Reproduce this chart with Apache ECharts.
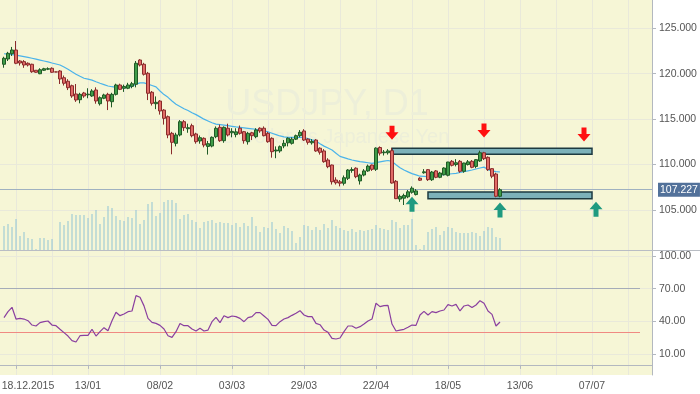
<!DOCTYPE html>
<html><head><meta charset="utf-8">
<script src="https://cdn.jsdelivr.net/npm/echarts@6/dist/echarts.min.js"></script>
<style>html,body{margin:0;padding:0;background:#fff}#c{width:700px;height:394px}</style>
</head><body><div id="c"></div><script>
// ---- data ----
const firstBarDate = '2015-12-15';
// [open, close, low, high]
const ohlc = [
[121.04,121.70,120.66,121.87],[121.62,122.25,121.40,122.41],[122.20,122.61,121.95,122.95],[122.61,121.15,121.05,123.60],
[121.40,121.18,120.90,121.50],[121.33,120.96,120.65,121.50],[121.15,120.96,120.80,121.25],[121.04,120.22,120.10,121.10],
[120.38,120.16,120.10,120.40],[120.00,120.44,119.95,120.60],[120.38,120.55,120.30,120.65],[120.50,120.55,120.40,120.70],
[120.60,120.16,120.10,120.70],[120.20,120.19,120.17,120.22],[120.30,119.42,118.87,120.40],[119.56,118.95,118.70,119.80],
[119.17,118.46,118.20,119.40],[118.68,117.55,117.35,118.80],[117.77,117.11,116.90,118.87],[117.14,117.73,116.74,117.90],
[117.88,117.55,117.35,118.00],[117.68,117.75,117.30,118.40],[117.55,118.10,117.45,118.30],[118.21,117.00,116.70,118.50],
[116.70,117.36,116.50,117.50],[117.30,117.66,117.20,117.80],[117.73,117.00,116.00,117.90],[116.92,117.73,116.30,117.90],
[117.73,118.76,117.60,118.90],[118.76,118.28,118.20,118.90],[118.40,118.60,118.00,118.80],[118.40,118.76,118.30,119.00],
[118.61,118.90,118.40,119.10],[118.84,121.15,118.50,121.40],[121.51,120.96,120.80,121.60],[121.04,119.94,119.80,121.20],
[120.05,117.85,117.10,120.20],[117.96,116.74,116.50,118.10],[116.70,116.85,116.10,117.50],[116.99,115.90,115.50,117.10],
[116.00,115.09,114.40,116.10],[115.27,113.26,112.90,115.40],[113.44,112.45,111.13,113.60],[112.34,113.26,112.00,113.50],
[113.26,114.72,113.10,114.90],[114.72,114.06,113.70,114.90],[113.95,114.06,113.50,114.50],[114.28,113.18,113.00,114.50],
[113.37,112.52,112.30,113.50],[112.60,112.96,112.30,113.20],[112.89,112.15,111.90,113.00],[112.00,112.30,111.10,112.60],
[112.04,113.00,111.90,113.10],[113.07,113.99,112.90,114.20],[114.10,112.63,112.50,114.40],[112.63,114.10,112.40,114.20],
[114.00,113.26,113.10,114.50],[113.50,113.65,113.00,114.00],[113.30,113.60,113.00,114.00],[114.00,113.44,113.30,114.30],
[113.62,112.63,112.30,113.70],[112.52,113.44,112.20,113.60],[113.50,113.18,112.70,113.60],[113.07,113.81,112.90,114.00],
[114.00,113.70,113.50,114.10],[114.00,113.18,113.10,114.20],[113.44,112.52,112.40,113.60],[112.89,111.42,110.76,113.00],
[111.50,111.60,110.70,112.00],[111.50,111.97,111.30,112.10],[112.05,112.34,111.80,112.70],[112.40,112.90,112.00,113.00],
[112.34,112.80,112.20,113.00],[112.80,113.18,112.70,113.30],[113.18,113.55,113.00,113.80],[113.70,112.70,112.60,113.90],
[112.80,112.45,112.20,112.90],[112.40,112.55,112.20,112.80],[112.70,111.50,111.40,112.80],[111.80,111.35,111.10,111.90],
[111.50,110.32,110.20,111.70],[110.50,109.77,109.60,110.70],[109.95,108.11,107.80,110.00],[108.30,108.00,107.80,108.60],
[108.10,107.95,107.60,108.30],[107.94,108.55,107.70,108.80],[108.49,109.40,108.30,109.50],[109.35,109.45,109.10,109.70],
[109.60,108.67,108.50,109.70],[108.20,108.85,107.80,109.00],[108.85,109.30,108.70,109.50],[109.30,109.83,109.20,110.00],
[109.95,109.48,109.30,110.00],[109.48,111.81,109.30,111.90],[111.88,111.26,111.00,112.00],[111.30,111.38,111.00,111.60],
[111.30,111.50,111.10,111.70],[111.53,107.97,107.90,111.82],[108.16,106.25,106.20,108.30],[106.20,106.50,105.90,106.70],
[106.30,106.60,105.55,106.80],[106.45,107.00,106.30,107.20],[106.95,107.40,106.80,107.60],[106.70,107.10,106.60,107.30],
[108.50,108.28,108.20,108.60],[109.10,109.20,109.00,109.50],[109.44,108.34,108.20,109.50],[108.33,109.18,108.20,109.30],
[109.30,108.60,108.50,109.40],[108.60,109.07,108.50,109.20],[108.88,109.62,108.80,109.70],[108.82,110.28,108.70,110.30],
[110.36,109.92,109.80,110.50],[110.00,110.20,109.80,110.60],[110.36,109.26,109.10,110.50],[109.26,110.17,109.10,110.20],
[110.00,110.30,109.90,110.50],[110.36,109.70,109.60,110.50],[109.80,110.54,109.60,110.60],[110.40,111.30,110.30,111.53],
[111.30,110.65,110.50,111.40],[110.80,109.44,109.30,110.90],[109.55,108.72,108.50,109.60],[108.96,106.51,106.40,109.10],
[106.51,107.227,106.40,107.40]
];
const maValues = [
122.20,122.15,122.10,122.05,121.97,121.88,121.79,121.70,121.60,121.50,
121.40,121.30,121.18,121.07,120.96,120.73,120.50,120.22,119.95,119.72,
119.50,119.40,119.30,119.12,118.95,118.80,118.65,118.57,118.50,118.47,
118.45,118.52,118.60,118.85,119.00,119.00,118.85,118.70,118.55,118.10,
117.70,117.40,117.00,116.65,116.40,116.15,115.95,115.70,115.50,115.25,
115.00,114.80,114.60,114.45,114.40,114.34,114.28,114.21,114.14,114.09,
114.04,113.99,113.94,113.88,113.80,113.72,113.60,113.45,113.30,113.15,
113.05,113.00,113.00,113.00,113.00,112.98,112.85,112.72,112.60,112.30,
112.03,111.82,111.60,111.25,110.90,110.77,110.63,110.50,110.41,110.32,
110.26,110.20,110.14,110.22,110.30,110.38,110.45,110.35,109.98,109.65,
109.40,109.20,109.00,108.86,108.72,108.70,108.68,108.73,108.78,108.83,
108.88,108.94,108.99,109.04,109.13,109.22,109.31,109.40,109.51,109.62,
109.72,109.45,109.30,109.22,109.18
];
const volumeValues = [
24,26,23,31,14,18,12,11,1,12,12,10,11,0,28,25,29,36,35,35,
35,32,36,40,26,33,44,42,34,30,29,33,32,40,26,30,46,48,34,37,
48,50,50,47,31,35,36,30,28,22,28,29,30,27,28,27,27,25,27,23,
27,24,33,24,18,23,22,28,21,17,24,22,19,7,13,25,24,20,23,20,
26,22,30,24,22,20,19,21,18,20,19,20,21,25,22,21,20,30,28,22,
25,25,31,5,1,5,18,21,23,15,19,23,22,18,17,17,17,18,17,14,
19,23,22,13,12
];
const rsiValues = [
43.4,48.9,52.9,42.1,42.7,42.1,40.6,36.6,35.7,38.8,
39.7,40.3,36.6,36.0,32.7,29.6,26.5,22.3,21.0,26.8,
27.1,27.1,32.7,26.5,30.5,34.2,31.4,40.6,48.3,45.2,
46.7,48.9,49.5,63.6,62.1,54.2,42.7,39.1,38.1,36.3,
33.0,26.8,25.3,30.5,38.1,36.0,36.0,33.0,31.1,33.6,
31.1,32.0,39.7,43.7,38.8,45.2,43.4,44.9,44.3,42.7,
39.7,43.4,44.3,48.0,48.0,44.9,41.8,36.3,36.0,39.7,
42.1,43.4,45.5,47.4,49.8,45.8,44.3,44.3,38.1,36.9,
32.0,29.9,24.4,23.8,24.7,30.5,35.7,35.7,33.6,35.1,
37.5,40.3,42.1,56.6,53.5,54.4,54.7,37.5,31.1,32.0,
32.7,34.5,36.6,36.3,45.8,49.2,45.8,48.9,48.0,49.5,
50.4,55.3,54.1,55.6,49.5,54.1,55.0,52.6,55.0,59.0,
56.6,49.5,46.4,35.7,39.4
];
const lastPrice = 107.227;
const rsiLevels = [70, 30];
const priceTicks = [105, 110, 115, 120, 125];
const rsiTicks = [10, 40, 70, 100];
const tickDates = ['2015-12-18','2016-01-13','2016-02-08','2016-03-03','2016-03-29','2016-04-22','2016-05-18','2016-06-13','2016-07-07'];
const tickLabels = ['18.12.2015','13/01','08/02','03/03','29/03','22/04','18/05','13/06','07/07'];
// annotations
const boxStart = ['2016-04-28','2016-05-11'];
const boxEnd = ['2016-07-07','2016-07-07'];
const boxTop = [111.79, 106.98];
const boxBottom = [111.13, 106.24];
const downArrowDates = ['2016-04-28','2016-05-31','2016-07-05'];
const downArrowPrices = [113.50, 113.75, 113.30];
const upArrowDates = ['2016-05-05','2016-06-06','2016-07-08'];
const upArrowPrices = [105.64, 105.00, 105.09];

// ---- axis categories: weekdays ----
const categories = (() => {
  const out = []; const d = new Date(Date.UTC(2015, 11, 14));
  while (out.length < 164) { const w = d.getUTCDay(); if (w !== 0 && w !== 6) out.push(d.toISOString().slice(0, 10)); d.setUTCDate(d.getUTCDate() + 1); }
  return out;
})();
const first = categories.indexOf(firstBarDate);
const align = (arr, empty) => categories.map((c, i) => { const k = i - first; return (k >= 0 && k < arr.length) ? arr[k] : empty; });
const tickIdx = tickDates.map(d => categories.indexOf(d));
const gridIdx = new Set(); tickIdx.forEach(t => { gridIdx.add(t); gridIdx.add(t + 9); });

const FONT = "'Liberation Sans',Arial,sans-serif";
const FS = 10.5;
const BG = '#f6f6d6', GRIDC = '#e9e9da', AXC = '#b3b8bf';
const downPath = 'path://M4,0H9V6H13L6.5,13L0,6H4Z';
const upPath = 'path://M6.5,0L13,7H9V14H4V7H0Z';

const labelFmt = (v) => { const t = tickDates.indexOf(v); if (t < 0) return ''; return t === 0 ? '{f|' + tickLabels[0] + '}' : tickLabels[t]; };

const chart = echarts.init(document.getElementById('c'), null, { renderer: 'canvas' });
chart.setOption({
  animation: false,
  backgroundColor: '#ffffff',
  grid: [
    { left: 0, top: 0, width: 652, height: 250, show: true, backgroundColor: BG, borderWidth: 0, containLabel: false, outerBoundsMode: 'none' },
    { left: 0, top: 250, width: 652, height: 125, show: true, backgroundColor: BG, borderWidth: 0, containLabel: false, outerBoundsMode: 'none' }
  ],
  graphic: [
    { type: 'text', z: 1, x: 327, y: 105, style: { text: 'USDJPY, D1', fill: '#edefd9', font: '36px "Liberation Sans", Arial, sans-serif', textAlign: 'center', textVerticalAlign: 'middle' } },
    { type: 'text', z: 1, x: 328, y: 137, style: { text: 'US Dollar vs Japanese Yen', fill: '#edefd9', font: '20px "Liberation Sans", Arial, sans-serif', textAlign: 'center', textVerticalAlign: 'middle' } },
    { type: 'line', z: 10, shape: { x1: 0, y1: 250.5, x2: 700, y2: 250.5 }, style: { stroke: '#b9bdc4', lineWidth: 1 } }
  ],
  xAxis: [
    { type: 'category', gridIndex: 0, data: categories, boundaryGap: false,
      axisLine: { show: false }, axisTick: { show: false }, axisLabel: { show: false },
      splitLine: { show: true, interval: (i) => gridIdx.has(i), lineStyle: { color: GRIDC, width: 1 } } },
    { type: 'category', gridIndex: 1, data: categories, boundaryGap: false,
      axisLine: { show: true, lineStyle: { color: AXC } },
      axisTick: { show: true, length: 4, interval: (i) => tickIdx.includes(i), lineStyle: { color: AXC } },
      axisLabel: { show: true, interval: (i) => tickIdx.includes(i), formatter: labelFmt, color: '#555', fontSize: FS, fontFamily: FONT, margin: 6,
        rich: { f: { padding: [0, 0, 0, 24], color: '#555', fontSize: FS, fontFamily: FONT } } },
      splitLine: { show: true, interval: (i) => gridIdx.has(i), lineStyle: { color: GRIDC, width: 1 } } }
  ],
  yAxis: [
    { type: 'value', gridIndex: 0, position: 'right', min: 100.597, max: 128.115,
      axisLine: { show: true, lineStyle: { color: AXC } },
      axisTick: { show: true, length: 4, customValues: priceTicks, lineStyle: { color: AXC } },
      axisLabel: { customValues: priceTicks, formatter: v => v.toFixed(3), color: '#555', fontSize: FS, fontFamily: FONT, margin: 7 },
      splitLine: { show: true, lineStyle: { color: GRIDC } } },
    { type: 'value', gridIndex: 0, min: 0, max: 250, show: false },
    { type: 'value', gridIndex: 1, position: 'right', min: -9.28, max: 105.51,
      axisLine: { show: true, lineStyle: { color: AXC } },
      axisTick: { show: true, length: 4, customValues: rsiTicks, lineStyle: { color: AXC } },
      axisLabel: { customValues: rsiTicks, formatter: v => v.toFixed(2), color: '#555', fontSize: FS, fontFamily: FONT, margin: 7 },
      splitLine: { show: true, lineStyle: { color: GRIDC } } }
  ],
  series: [
    { type: 'bar', name: 'Volume', xAxisIndex: 0, yAxisIndex: 1, data: align(volumeValues, '-'), barWidth: 1,
      itemStyle: { color: '#8fc3d3' }, z: 2, silent: true },
    { type: 'candlestick', name: 'USDJPY', xAxisIndex: 0, yAxisIndex: 0, data: align(ohlc, ['-','-','-','-']), barWidth: 3, z: 4,
      itemStyle: { color: '#3f9c48', color0: '#e06b66', borderColor: '#1f5a25', borderColor0: '#8a2b2b', borderWidth: 1 },
      markLine: { silent: true, symbol: ['none', 'none'], z: 3,
        lineStyle: { color: '#9fb1c0', width: 1, type: 'solid' },
        label: { show: true, position: 'end', formatter: () => lastPrice.toFixed(3), color: '#fff', backgroundColor: '#52719a',
          fontSize: FS, fontFamily: FONT, padding: [2, 2, 1, 2], distance: 6 },
        data: [{ yAxis: lastPrice }] },
      markArea: { silent: true,
        itemStyle: { color: '#7cb1b9', borderColor: '#1d3a40', borderWidth: 1.5 },
        data: boxStart.map((s, j) => [{ coord: [s, boxTop[j]] }, { coord: [boxEnd[j], boxBottom[j]] }]) },
      markPoint: { silent: true, symbolKeepAspect: false, label: { show: false },
        data: downArrowDates.map((d, j) => ({ coord: [d, downArrowPrices[j]], symbol: downPath, symbolSize: [13, 14], itemStyle: { color: '#ff1010' } }))
          .concat(upArrowDates.map((d, j) => ({ coord: [d, upArrowPrices[j]], symbol: upPath, symbolSize: [13, 15], itemStyle: { color: '#1f9a80' } }))) } },
    { type: 'line', name: 'MA', xAxisIndex: 0, yAxisIndex: 0, data: align(maValues, '-'), showSymbol: false, z: 3,
      lineStyle: { color: '#4ab3ea', width: 1.2 }, silent: true },
    { type: 'line', name: 'RSI', xAxisIndex: 1, yAxisIndex: 2, data: align(rsiValues, '-'), showSymbol: false, z: 4,
      lineStyle: { color: '#8a3f9f', width: 1.2 }, silent: true,
      markLine: { silent: true, symbol: ['none', 'none'], label: { show: false }, z: 3,
        data: rsiLevels.map((lv, j) => [{ coord: [categories[0], lv], lineStyle: { color: j === 0 ? '#a5acb8' : '#f08a82', width: 1, type: 'solid' } },
                                       { coord: [categories[160], lv] }]) } }
  ]
});
</script></body></html>
